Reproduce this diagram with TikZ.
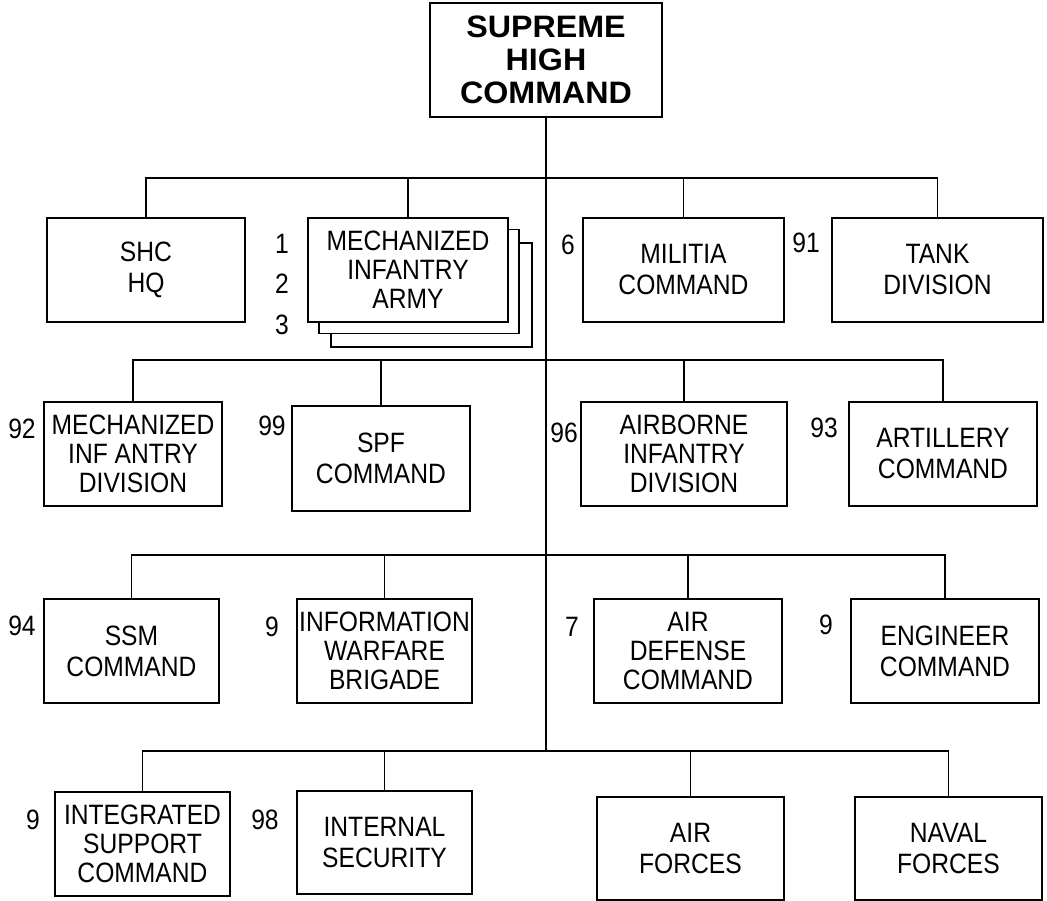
\documentclass[tikz,border=0pt]{standalone}
\usepackage{fontspec}
\setmainfont{Liberation Sans}[FakeStretch=0.88]
\newfontfamily\headfont{Liberation Sans}[FakeStretch=1.04]
\usetikzlibrary{positioning}
\tikzset{
    unit/.style={draw, line width=1.3pt, fill=white, align=center, inner sep=0pt,
        minimum height=104pt, font=\fontsize{28}{29}\selectfont},
    top unit/.style={unit, minimum width=232pt, minimum height=114pt,
        font=\headfont\fontsize{31}{33}\selectfont\bfseries},
    tag/.style={inner sep=0pt, font=\fontsize{28}{28}\selectfont},
    link/.style={line width=1.3pt}
}

\begin{document}
\begin{tikzpicture}[x=1pt, y=-1pt]

    \useasboundingbox (0,0) rectangle (1047,901);

    \node[top unit] (shc top) at (546,60) {SUPREME\\HIGH\\COMMAND};

    \coordinate (hub1) at (546,178);
    \coordinate (hub2) at (546,360);
    \coordinate (hub3) at (546,555);
    \coordinate (hub4) at (546,751);

    % first row
    \node[unit, minimum width=198pt] (shc hq) at (146,270) {SHC\\[2pt]HQ};
    \node[unit, minimum width=201pt] (army3) at (431.5,295) {};
    \node[unit, minimum width=200pt] (army2) at (419,281.5) {};
    \node[unit, minimum width=200pt] (army) at (408,270) {MECHANIZED\\INFANTRY\\ARMY};
    \node[unit, minimum width=201pt] (militia) at (683.5,270) {MILITIA\\[2pt]COMMAND};
    \node[unit, minimum width=211pt] (tank) at (937.5,270) {TANK\\[2pt]DIVISION};

    % second row
    \node[unit, minimum width=178pt] (mech div) at (133,454) {MECHANIZED\\INF ANTRY\\DIVISION};
    \node[unit, minimum width=178pt, minimum height=105pt] (spf) at (381,458.5) {SPF\\[2pt]COMMAND};
    \node[unit, minimum width=206pt] (airborne) at (684,454) {AIRBORNE\\INFANTRY\\DIVISION};
    \node[unit, minimum width=188pt] (artillery) at (943,454) {ARTILLERY\\[2pt]COMMAND};

    % third row
    \node[unit, minimum width=175pt] (ssm) at (131.5,651) {SSM\\[2pt]COMMAND};
    \node[unit, minimum width=175pt] (infowar) at (384.5,651) {INFORMATION\\WARFARE\\BRIGADE};
    \node[unit, minimum width=188pt] (air def) at (688,651) {AIR\\DEFENSE\\COMMAND};
    \node[unit, minimum width=188pt] (engineer) at (945,651) {ENGINEER\\[2pt]COMMAND};

    % fourth row
    \node[unit, minimum width=175pt] (support) at (142.5,844) {INTEGRATED\\SUPPORT\\COMMAND};
    \node[unit, minimum width=175pt, minimum height=103pt] (security) at (384.5,842.5) {INTERNAL\\[2pt]SECURITY};
    \node[unit, minimum width=187pt, minimum height=103pt] (air forces) at (690.5,848.5) {AIR\\[2pt]FORCES};
    \node[unit, minimum width=187pt, minimum height=103pt] (naval) at (948.5,848.5) {NAVAL\\[2pt]FORCES};

    % unit numbers
    \node[tag] (t1) at (282,244) {1};
    \node[tag] (t2) at (282,284) {2};
    \node[tag] (t3) at (282,325) {3};
    \node[tag] (t6) at (568,245) {6};
    \node[tag] (t91) at (806,243) {91};
    \node[tag] (t92) at (22,429) {92};
    \node[tag] (t99) at (272,426) {99};
    \node[tag] (t96) at (564,433) {96};
    \node[tag] (t93) at (824,428) {93};
    \node[tag] (t94) at (22,626) {94};
    \node[tag] (t9a) at (272,627) {9};
    \node[tag] (t7) at (572,627) {7};
    \node[tag] (t9b) at (826,625) {9};
    \node[tag] (t9c) at (33,820) {9};
    \node[tag] (t98) at (265,820) {98};

    % command lines
    \draw[link] (shc top.south) -- (hub4);

    \draw[link] (shc hq.north) |- (hub1) -| (tank.north);
    \draw[link] (army.north) -- (army.north |- hub1);
    \draw[link] (militia.north) -- (militia.north |- hub1);

    \draw[link] (mech div.north) |- (hub2) -| (artillery.north);
    \draw[link] (spf.north) -- (spf.north |- hub2);
    \draw[link] (airborne.north) -- (airborne.north |- hub2);

    \draw[link] (ssm.north) |- (hub3) -| (engineer.north);
    \draw[link] (infowar.north) -- (infowar.north |- hub3);
    \draw[link] (air def.north) -- (air def.north |- hub3);

    \draw[link] (support.north) |- (hub4) -| (naval.north);
    \draw[link] (security.north) -- (security.north |- hub4);
    \draw[link] (air forces.north) -- (air forces.north |- hub4);

\end{tikzpicture}
\end{document}
